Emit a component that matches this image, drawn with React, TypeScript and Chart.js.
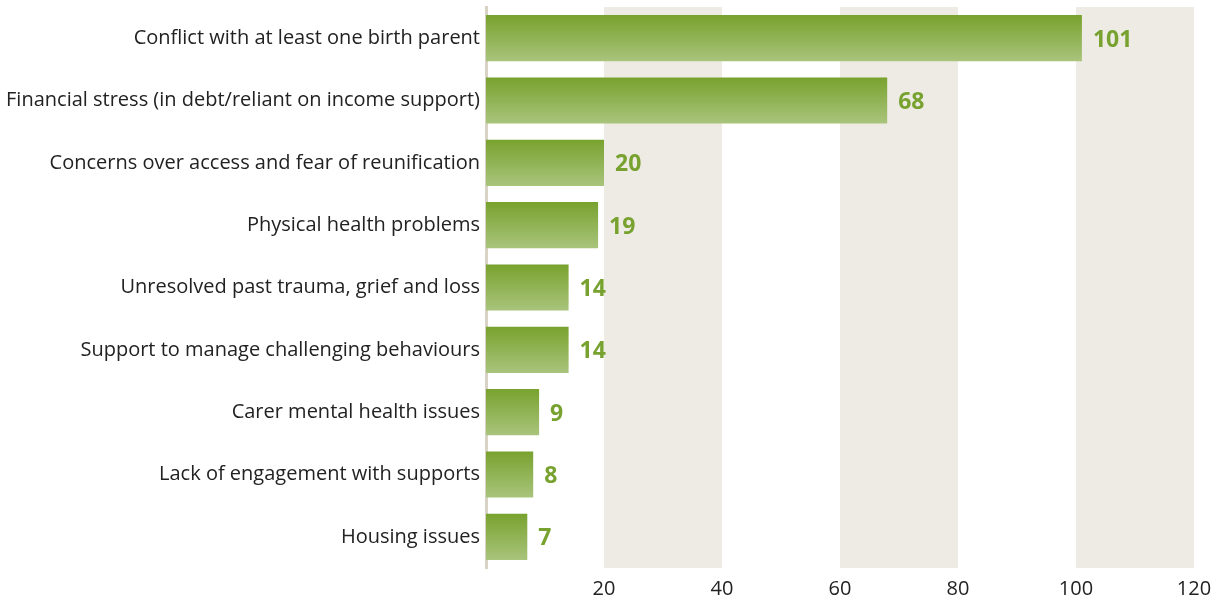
import React, { useEffect, useRef } from "react";
import { Chart, registerables } from "chart.js";

Chart.register(...registerables);

const categories: string[] = [
  "Conflict with at least one birth parent",
  "Financial stress (in debt/reliant on income support)",
  "Concerns over access and fear of reunification",
  "Physical health problems",
  "Unresolved past trauma, grief and loss",
  "Support to manage challenging behaviours",
  "Carer mental health issues",
  "Lack of engagement with supports",
  "Housing issues",
];

const values: number[] = [101, 68, 20, 19, 14, 14, 9, 8, 7];

const xTicks: number[] = [20, 40, 60, 80, 100, 120];

const bands: [number, number][] = [
  [20, 40],
  [60, 80],
  [100, 120],
];

const FONT = "'Open Sans', 'Noto Sans', sans-serif";
const BAR_PCT = 0.74;

const bandPlugin = {
  id: "bands",
  beforeDatasetsDraw(chart: any) {
    const { ctx, chartArea, scales } = chart;
    const x = scales.x;
    ctx.save();
    ctx.fillStyle = "#eeebe4";
    for (const [a, b] of bands) {
      const x0 = x.getPixelForValue(a);
      const x1 = x.getPixelForValue(b);
      ctx.fillRect(x0, chartArea.top, x1 - x0, chartArea.bottom - chartArea.top);
    }
    ctx.restore();
  },
};

const labelPlugin = {
  id: "valueLabels",
  afterDatasetsDraw(chart: any) {
    const { ctx } = chart;
    const meta = chart.getDatasetMeta(0);
    ctx.save();
    ctx.font = `bold 23px ${FONT}`;
    ctx.fillStyle = "#78a22f";
    ctx.textAlign = "left";
    ctx.textBaseline = "middle";
    meta.data.forEach((bar: any, i: number) => {
      ctx.fillText(String(values[i]), bar.x + 11, bar.y + 2);
    });
    ctx.restore();
  },
};

export default function App() {
  const ref = useRef<HTMLCanvasElement | null>(null);

  useEffect(() => {
    document.body.style.margin = "0";
    const canvas = ref.current;
    if (!canvas) return;
    const chart = new Chart(canvas, {
      type: "bar",
      data: {
        labels: categories,
        datasets: [
          {
            data: values,
            backgroundColor: (c: any) => {
              const ch = c.chart;
              const ys = ch.scales?.y;
              if (!ys || !ch.chartArea) return "#8fb150";
              const center = ys.getPixelForValue(c.dataIndex);
              const half = ((ys.bottom - ys.top) / categories.length) * BAR_PCT / 2;
              const g = ch.ctx.createLinearGradient(0, center - half, 0, center + half);
              g.addColorStop(0, "#78a22e");
              g.addColorStop(1, "#a9c47c");
              return g;
            },
            borderWidth: 0,
            barPercentage: BAR_PCT,
            categoryPercentage: 1,
          },
        ],
      },
      options: {
        indexAxis: "y",
        responsive: false,
        animation: false,
        layout: { padding: { top: 7, right: 28, left: 0, bottom: 0 } },
        plugins: {
          legend: { display: false },
          tooltip: { enabled: false },
        },
        scales: {
          x: {
            min: 0,
            max: 120,
            afterBuildTicks: (s: any) => {
              s.ticks = xTicks.map((v) => ({ value: v }));
            },
            grid: { display: false, drawTicks: false },
            border: { display: false },
            ticks: {
              color: "#222222",
              font: { family: FONT, size: 20 },
              padding: 9,
            },
            afterFit: (s: any) => {
              s.height = 34;
              s.paddingLeft = 0;
            },
          },
          y: {
            grid: { display: false, drawTicks: false },
            border: { display: true, color: "#d9d3c5", width: 3 },
            ticks: {
              color: "#222222",
              font: { family: FONT, size: 20 },
              padding: 6,
            },
            afterFit: (s: any) => {
              s.width = 486;
              s.paddingTop = 0;
              s.paddingBottom = 0;
            },
          },
        },
      },
      plugins: [bandPlugin, labelPlugin],
    });
    return () => chart.destroy();
  }, []);

  return <canvas ref={ref} width={1222} height={602} />;
}
